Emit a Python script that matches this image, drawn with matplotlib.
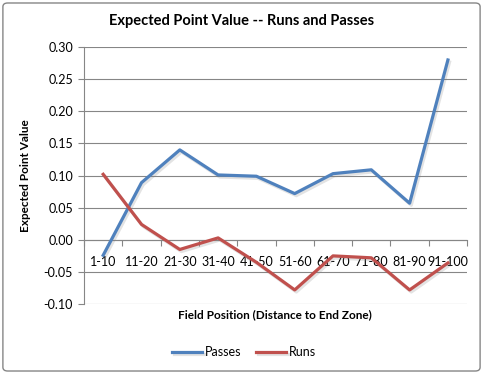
import numpy as np
import matplotlib.pyplot as plt
import matplotlib.patheffects as pe
from matplotlib.patches import FancyBboxPatch

categories = ['1-10', '11-20', '21-30', '31-40', '41-50', '51-60', '61-70', '71-80', '81-90', '91-100']
passes = [-0.024, 0.089, 0.140, 0.101, 0.099, 0.072, 0.103, 0.109, 0.057, 0.280]
runs = [0.102, 0.024, -0.015, 0.003, -0.035, -0.078, -0.025, -0.028, -0.078, -0.036]

blue = '#4F81BD'
red = '#C0504D'
gridColor = '#868686'
fontName = ['Lato', 'DejaVu Sans']

plt.rcParams['font.family'] = fontName

fig = plt.figure(figsize=(4.83, 3.74), dpi=100)
fig.patches.append(FancyBboxPatch((0.006, 0.008), 0.988, 0.984, boxstyle='round,pad=0,rounding_size=0.01',
                                  transform=fig.transFigure, fc='white', ec=gridColor, lw=1.0, zorder=-1))
ax = fig.add_axes([0.174, 0.187, 0.793, 0.687])
ax.set_facecolor('none')

x = np.arange(len(categories)) + 0.5
shadow = [pe.SimpleLineShadow(offset=(1.2, -1.5), shadow_color='gray', alpha=0.22), pe.Normal()]
ax.plot(x, passes, color=blue, lw=2.3, label='Passes', path_effects=shadow, zorder=3)
ax.plot(x, runs, color=red, lw=2.3, label='Runs', path_effects=shadow, zorder=3)

ax.set_xlim(0, len(categories))
ax.set_ylim(-0.10, 0.30)
ax.set_yticks(np.arange(-0.10, 0.301, 0.05))
ax.set_yticklabels([f'{v:.2f}' for v in np.arange(-0.10, 0.301, 0.05)], fontsize=9)
ax.yaxis.grid(True, color=gridColor, lw=0.8)
ax.set_axisbelow(True)

for side in ['top', 'right']:
    ax.spines[side].set_visible(False)
ax.spines['left'].set_color(gridColor)
ax.spines['bottom'].set_position(('data', 0))
ax.spines['bottom'].set_color(gridColor)
ax.tick_params(axis='y', color=gridColor, length=4, pad=4)

ax.set_xticks(np.arange(len(categories) + 1))
ax.set_xticklabels([])
ax.tick_params(axis='x', which='major', color=gridColor, length=4, direction='out')
ax.set_xticks(x, minor=True)
ax.set_xticklabels(categories, minor=True, fontsize=9)
ax.tick_params(axis='x', which='minor', length=0, pad=12)

fig.text(0.5, 0.943, 'Expected Point Value -- Runs and Passes', ha='center', va='center',
         fontsize=10.5, fontweight='bold')
fig.text(0.052, 0.53, 'Expected Point Value', ha='center', va='center', rotation=90,
         fontsize=8.5, fontweight='bold')
fig.text(0.57, 0.158, 'Field Position (Distance to End Zone)', ha='center', va='center',
         fontsize=8.5, fontweight='bold')

fig.legend(loc='center', bbox_to_anchor=(0.505, 0.058), ncol=2, frameon=False, fontsize=9,
           handlelength=2.4, handletextpad=0.2, columnspacing=1.2)

fig.savefig('out.png', dpi=100)
